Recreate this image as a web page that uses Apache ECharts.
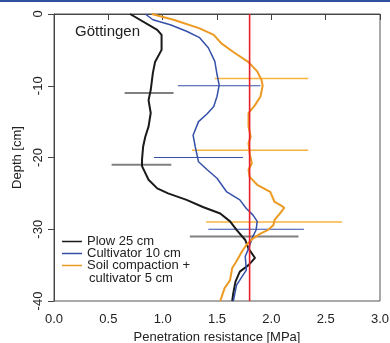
<!DOCTYPE html>
<html>
<head>
<meta charset="utf-8">
<script src="https://cdn.jsdelivr.net/npm/echarts@6/dist/echarts.min.js"></script>
<style>
  html, body { margin: 0; padding: 0; background: #fff; }
  #chart { width: 390px; height: 343px; }
</style>
</head>
<body>
<div id="chart"></div>
<script>
// Penetration resistance profiles, Göttingen
const plowRes   = [0.70, 0.95, 0.99, 0.99, 0.93, 0.91, 0.89, 0.87, 0.89, 0.87, 0.84, 0.82, 0.81, 0.81, 0.87, 0.95, 1.05, 1.22, 1.37, 1.53, 1.62, 1.68, 1.76, 1.79, 1.85, 1.79, 1.71, 1.67, 1.65, 1.64];
const plowDepth = [0, -2.2, -2.9, -5.0, -6.7, -8.2, -10.6, -12.0, -13.8, -15.7, -17.1, -18.5, -20.3, -21.2, -23.1, -24.3, -25.0, -25.9, -26.9, -27.8, -28.9, -30.1, -31.5, -32.7, -34.0, -35.0, -35.9, -37.3, -38.9, -40];

const cultRes   = [0.84, 0.91, 1.07, 1.22, 1.34, 1.42, 1.48, 1.50, 1.52, 1.50, 1.47, 1.41, 1.33, 1.28, 1.30, 1.33, 1.41, 1.50, 1.59, 1.71, 1.77, 1.83, 1.87, 1.86, 1.83, 1.79, 1.76, 1.77, 1.73, 1.68, 1.65];
const cultDepth = [0, -0.8, -1.5, -2.4, -3.3, -4.7, -6.6, -8.4, -9.9, -11.5, -12.9, -13.9, -15.0, -16.9, -18.5, -20.6, -21.7, -22.9, -24.8, -25.9, -27.1, -28.0, -28.9, -30.1, -31.0, -32.7, -33.8, -35.7, -36.6, -37.8, -40];

const compRes   = [0.90, 1.10, 1.34, 1.47, 1.54, 1.65, 1.79, 1.87, 1.91, 1.92, 1.90, 1.85, 1.79, 1.79, 1.81, 1.79, 1.80, 1.82, 1.79, 1.80, 1.87, 1.99, 2.03, 2.08, 2.12, 2.08, 2.03, 2.02, 1.97, 1.90, 1.83, 1.77, 1.73, 1.67, 1.64, 1.62, 1.57, 1.53];
const compDepth = [0, -0.8, -2.0, -2.9, -4.1, -5.3, -6.7, -8.0, -9.2, -10.0, -11.5, -12.7, -13.8, -15.7, -17.1, -18.0, -19.4, -20.8, -21.7, -22.7, -23.8, -24.8, -26.2, -26.6, -27.0, -27.8, -28.7, -29.4, -30.1, -30.6, -31.3, -32.2, -33.1, -34.7, -35.4, -37.1, -38.2, -40];

// horizontal error bars: depth, lower and upper resistance
const plowErrDepth = [-11, -21, -31];
const plowErrLow   = [0.65, 0.53, 1.25];
const plowErrHigh  = [1.10, 1.08, 2.25];
const cultErrDepth = [-10, -20, -30];
const cultErrLow   = [1.14, 0.92, 1.42];
const cultErrHigh  = [1.90, 1.74, 2.30];
const compErrDepth = [-9, -19, -29];
const compErrLow   = [1.48, 1.27, 1.40];
const compErrHigh  = [2.34, 2.34, 2.65];

const threshold = 1.8;   // MPa, critical penetration resistance
const depthRange = [0, -40];
const xTicks = [0, 0.5, 1.0, 1.5, 2.0, 2.5, 3.0];
const yTicks = [0, -10, -20, -30, -40];

const NAMES = ['Plow 25 cm', 'Cultivator 10 cm', 'Soil compaction + cultivator 5 cm'];
const C_BLACK = '#1a1a1a', C_BLUE = '#3550a8', C_ORANGE = '#ec9a22';

const zip = (xs, ys) => xs.map((x, i) => [x, ys[i]]);
const errData = (d, lo, hi) => d.map((v, i) => [lo[i], hi[i], v]);

const errSeries = (data, color, width) => ({
  type: 'custom',
  data,
  silent: true,
  z: 1,
  encode: { x: [0, 1], y: 2 },
  renderItem: (params, api) => {
    const a = api.coord([api.value(0), api.value(2)]);
    const b = api.coord([api.value(1), api.value(2)]);
    return {
      type: 'line',
      shape: { x1: a[0], y1: a[1], x2: b[0], y2: b[1] },
      style: { stroke: color, lineWidth: width },
    };
  },
});

const curve = (name, data, color, width) => ({
  type: 'line', name, data,
  showSymbol: false, symbol: 'none',
  lineStyle: { color, width },
  itemStyle: { color },
  z: 3,
});

const font = '"Liberation Sans", Arial, sans-serif';
const chart = echarts.init(document.getElementById('chart'));

chart.setOption({
  animation: false,
  backgroundColor: '#fff',
  textStyle: { fontFamily: font },
  title: {
    text: 'Göttingen', left: 75, top: 24, padding: 0,
    textStyle: { fontFamily: font, fontSize: 15, fontWeight: 'normal', color: '#222' },
  },
  grid: {
    left: 54, right: 10, top: 14, bottom: 42,
    outerBoundsMode: 'none',
    show: true, borderColor: '#555', borderWidth: 1,
  },
  legend: {
    left: 62, top: 235, orient: 'vertical', padding: 0,
    itemWidth: 20, itemHeight: 1.5, itemGap: -1, icon: 'rect',
    data: NAMES,
    formatter: (n) => n === NAMES[2] ? 'Soil compaction +' : n,
    textStyle: { fontFamily: font, fontSize: 13, lineHeight: 12.5, color: '#222' },
  },
  graphic: [
    { type: 'rect', left: 0, top: 0, shape: { width: 390, height: 2 }, style: { fill: '#2f4f9f' } },
    { type: 'text', left: 89, top: 272, style: { text: 'cultivator 5 cm', font: '13px ' + font, fill: '#222' } },
  ],
  xAxis: {
    type: 'value', min: 0, max: 3, interval: 0.5,
    name: 'Penetration resistance [MPa]', nameLocation: 'middle', nameGap: 30,
    nameTextStyle: { fontSize: 13, color: '#222' },
    axisLine: { show: true, lineStyle: { color: '#444' } },
    axisTick: { show: true, length: 6, lineStyle: { color: '#444' } },
    axisLabel: { fontSize: 13, color: '#222', margin: 12, formatter: (v) => xTicks.includes(v) ? v.toFixed(1) : '' },
    splitLine: { show: false },
  },
  yAxis: {
    type: 'value', min: -40, max: 0, interval: 10,
    name: 'Depth [cm]', nameLocation: 'middle', nameGap: 26,
    nameTextStyle: { fontSize: 13, color: '#222' },
    axisLine: { show: true, lineStyle: { color: '#444' } },
    axisTick: { show: true, length: 6, lineStyle: { color: '#444' } },
    axisLabel: { fontSize: 13, color: '#222', rotate: 90, margin: 9, formatter: (v) => yTicks.includes(v) ? String(v) : '' },
    splitLine: { show: false },
  },
  series: [
    errSeries(errData(plowErrDepth, plowErrLow, plowErrHigh), '#808080', 2),
    errSeries(errData(cultErrDepth, cultErrLow, cultErrHigh), C_BLUE, 1.2),
    errSeries(errData(compErrDepth, compErrLow, compErrHigh), '#f6b440', 1.5),
    curve(NAMES[0], zip(plowRes, plowDepth), C_BLACK, 2),
    curve(NAMES[1], zip(cultRes, cultDepth), C_BLUE, 1.5),
    curve(NAMES[2], zip(compRes, compDepth), C_ORANGE, 2),
    {
      type: 'line', name: 'threshold', silent: true,
      data: depthRange.map((d) => [threshold, d]),
      showSymbol: false, symbol: 'none',
      lineStyle: { color: '#e8202a', width: 1.6 },
      z: 4,
    },
  ],
});
</script>
</body>
</html>
